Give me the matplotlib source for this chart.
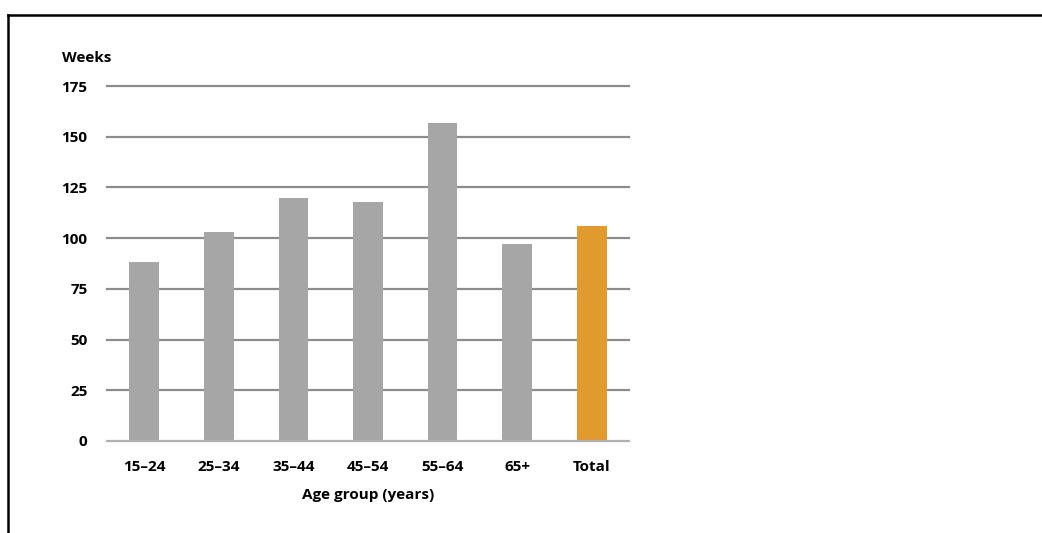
import matplotlib
matplotlib.use("Agg")
import matplotlib.pyplot as plt
from matplotlib.lines import Line2D

categories = ["15\u201324", "25\u201334", "35\u201344", "45\u201354", "55\u201364", "65+", "Total"]
weeks = [88, 103, 120, 118, 157, 97, 106]
colors = ["#a6a6a6"] * 6 + ["#e09a2e"]
yticks = [0, 25, 50, 75, 100, 125, 150, 175]

plt.rcParams['font.family'] = ['Open Sans', 'DejaVu Sans']

W, H = 1042, 533
fig = plt.figure(figsize=(W / 100, H / 100), dpi=100)
ax = fig.add_axes([107 / W, 1 - 441 / H, (629 - 107) / W, (441 - 86) / H])

x = list(range(len(categories)))
ax.bar(x, weeks, width=0.4, color=colors, zorder=3)
ax.set_xlim(-0.5, len(categories) - 0.5)
ax.set_ylim(0, 175)
ax.set_yticks(yticks)
ax.set_yticklabels([str(t) for t in yticks], fontsize=11, fontweight='bold')
ax.set_xticks(x)
ax.set_xticklabels(categories, fontsize=11, fontweight='bold')
ax.tick_params(axis='both', length=0)
ax.tick_params(axis='y', pad=14)
ax.tick_params(axis='x', pad=14)
for t in yticks:
    ax.axhline(t, color='#8c8c8c' if t > 0 else '#b0b0b0', linewidth=1.6, zorder=0 if t > 0 else 4, clip_on=False)
for s in ax.spines.values():
    s.set_visible(False)
ax.set_xlabel("Age group (years)", fontsize=11, fontweight='bold', labelpad=10)

fig.text(62 / W, 1 - 58 / H, "Weeks", fontsize=11, fontweight='bold', va='center', ha='left')

# outer frame (top and left only, as cropped in reference)
fig.add_artist(Line2D([8 / W, 1], [1 - 15 / H, 1 - 15 / H], transform=fig.transFigure, color='black', linewidth=1.8))
fig.add_artist(Line2D([8 / W, 8 / W], [0, 1 - 15 / H], transform=fig.transFigure, color='black', linewidth=1.8))

fig.savefig("out.png", dpi=100)
